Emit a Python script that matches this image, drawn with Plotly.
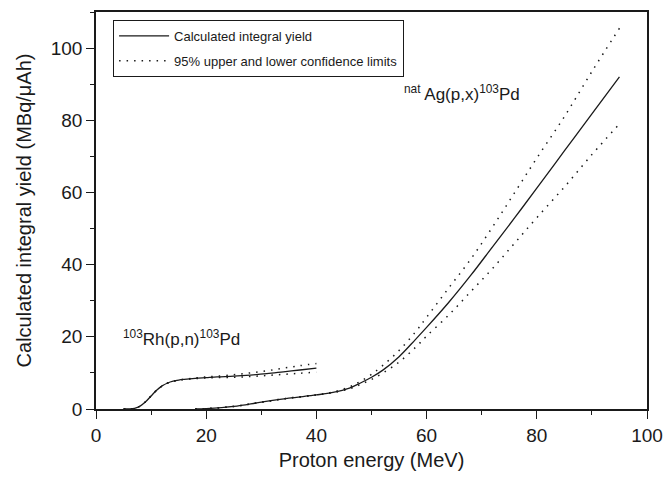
import plotly.graph_objects as go

# 103Rh(p,n)103Pd
rh_energy = [5, 6, 7, 8, 9, 10, 11, 12, 13, 14, 15, 16, 18, 20, 22, 25, 28, 31, 34, 37, 40]
rh_yield = [0, 0.02, 0.2, 0.8, 2.0, 3.6, 5.2, 6.4, 7.2, 7.7, 8.0, 8.2, 8.5, 8.7, 8.9, 9.1, 9.4, 9.8, 10.3, 10.8, 11.3]
rh_upper = [0, 0.02, 0.2, 0.8, 2.0, 3.6, 5.2, 6.4, 7.2, 7.7, 8.0, 8.2, 8.6, 8.9, 9.1, 9.5, 10.0, 10.6, 11.3, 12.0, 12.6]
rh_lower = [0, 0.02, 0.2, 0.8, 2.0, 3.6, 5.2, 6.4, 7.2, 7.7, 8.0, 8.2, 8.4, 8.6, 8.7, 8.8, 9.0, 9.3, 9.6, 9.9, 10.2]

# natAg(p,x)103Pd
ag_energy = [18, 20, 25, 30, 35, 40, 43, 46, 48, 50, 52, 55, 58, 60, 64, 68, 72, 76, 80, 85, 90, 95]
ag_yield = [0, 0.1, 0.7, 1.9, 3.0, 3.9, 4.6, 5.8, 7.2, 8.8, 10.7, 14.5, 19.3, 22.6, 29.5, 37.0, 45.0, 53.0, 61.2, 71.5, 81.8, 92.0]
ag_upper = [0, 0.1, 0.7, 1.9, 3.0, 3.9, 4.7, 6.1, 7.7, 9.6, 12.0, 16.2, 21.4, 25.4, 33.5, 41.5, 50.5, 60.0, 69.5, 81.0, 93.5, 105.5]
ag_lower = [0, 0.1, 0.7, 1.9, 3.0, 3.9, 4.5, 5.6, 6.8, 8.2, 9.9, 13.0, 17.1, 20.2, 26.0, 32.5, 39.0, 46.0, 53.0, 61.5, 70.5, 79.0]

x_ticks = [0, 20, 40, 60, 80, 100]
y_ticks = [0, 20, 40, 60, 80, 100]

FONT = "Liberation Sans, Arial, sans-serif"
INK = "#1a1a1a"
solid = dict(color=INK, width=1.3)
dotted = dict(color=INK, width=1.5, dash="1.5px,6px")

fig = go.Figure()

fig.add_trace(go.Scatter(x=rh_energy, y=rh_yield, mode="lines", line=solid,
                         line_shape="spline", name="Calculated integral yield",
                         legendgroup="calc"))
fig.add_trace(go.Scatter(x=ag_energy, y=ag_yield, mode="lines", line=solid,
                         line_shape="spline", name="Calculated integral yield",
                         legendgroup="calc", showlegend=False))
fig.add_trace(go.Scatter(x=rh_energy, y=rh_upper, mode="lines", line=dotted,
                         line_shape="spline", name="95% upper and lower confidence limits",
                         legendgroup="conf"))
for xs, ys in [(rh_energy, rh_lower), (ag_energy, ag_upper), (ag_energy, ag_lower)]:
    fig.add_trace(go.Scatter(x=xs, y=ys, mode="lines", line=dotted, line_shape="spline",
                             legendgroup="conf", showlegend=False))

fig.add_annotation(x=15.6, y=19.8, xref="x", yref="y",
                   text="<sup>103</sup>Rh(p,n)<sup>103</sup>Pd", showarrow=False,
                   font=dict(family=FONT, size=17, color=INK))
fig.add_annotation(x=66.5, y=87.5, xref="x", yref="y",
                   text="<sup>nat</sup> Ag(p,x)<sup>103</sup>Pd", showarrow=False,
                   font=dict(family=FONT, size=17, color=INK))

axis_common = dict(
    showline=True, linecolor=INK, linewidth=1.5, mirror=True,
    ticks="outside", ticklen=8, tickwidth=1.2, tickcolor=INK,
    showgrid=False, zeroline=False, automargin=False,
    tickfont=dict(family=FONT, size=19, color=INK),
    minor=dict(ticks="outside", ticklen=4, tickwidth=1.2, tickcolor=INK, dtick=10),
)

fig.update_layout(
    width=665, height=477,
    margin=dict(l=96, r=18, t=12, b=68),
    paper_bgcolor="white", plot_bgcolor="white",
    font=dict(family=FONT, color=INK),
    xaxis=dict(range=[0, 100], tickvals=x_ticks,
               title=dict(text="Proton energy (MeV)", font=dict(family=FONT, size=20), standoff=8),
               **axis_common),
    yaxis=dict(range=[0, 110], tickvals=y_ticks,
               title=dict(text="Calculated integral yield (MBq/μAh)", font=dict(family=FONT, size=20), standoff=14),
               **axis_common),
    showlegend=True,
    legend=dict(x=0.031, y=0.98, xanchor="left", yanchor="top",
                bordercolor=INK, borderwidth=1, bgcolor="white",
                font=dict(family=FONT, size=13, color=INK),
                itemwidth=50, tracegroupgap=5),
)

fig.write_html("out.html")
